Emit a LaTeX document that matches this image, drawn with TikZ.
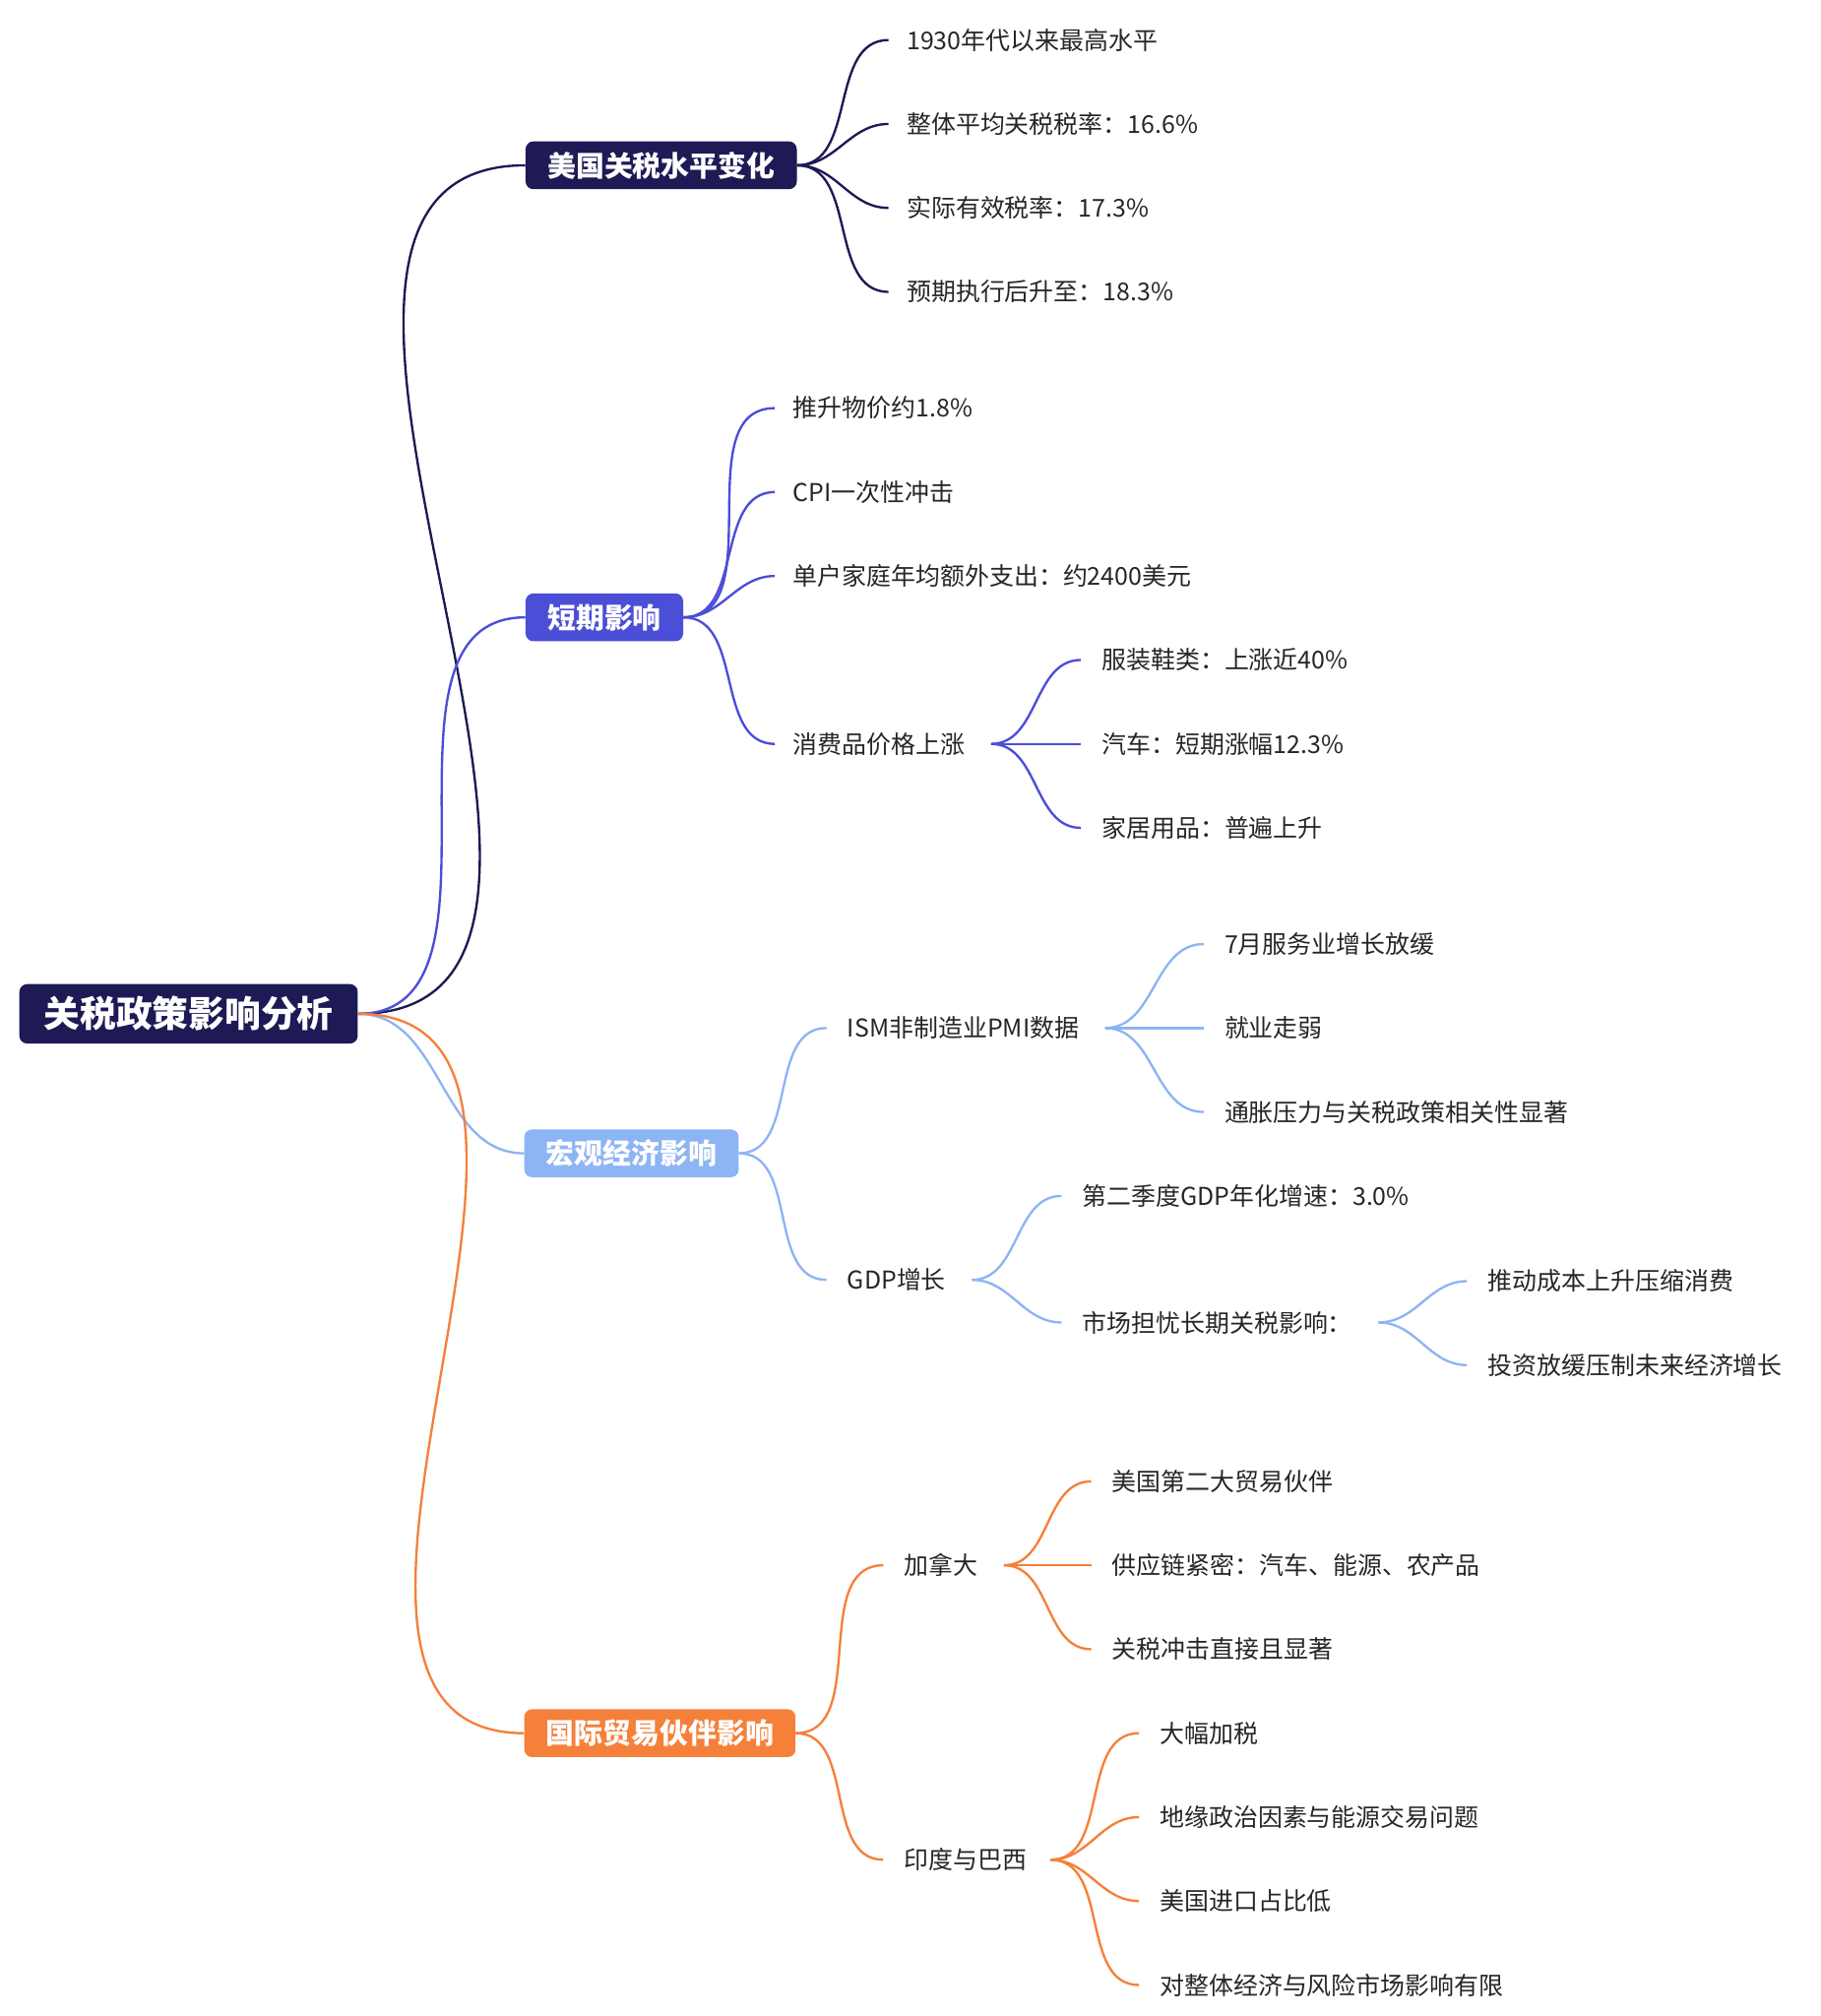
\documentclass[tikz,border=0pt]{standalone}
\usepackage{fontspec}
\setmainfont{Noto Sans CJK SC}
\begin{document}
\begin{tikzpicture}[x=1pt,y=-1pt,
  leaf/.style={anchor=west,inner sep=0pt,font=\fontsize{19}{19}\selectfont,text=black!85},
  box/.style={rounded corners=6pt,text=white,font=\fontsize{22}{22}\selectfont\bfseries,inner xsep=17pt,minimum height=37pt},
  ln/.style={line width=1.8pt,draw=#1},
  cv/.style={out=0,in=180}]
\definecolor{cA}{HTML}{1D1A55}
\definecolor{cB}{HTML}{4B4ED6}
\definecolor{cC}{HTML}{8DB4F4}
\definecolor{cD}{HTML}{F5803A}
\useasboundingbox (0,0) rectangle (1410,1561);
\node[box,fill=cA,font=\fontsize{28}{28}\selectfont\bfseries,inner xsep=19pt,minimum height=46pt] (root) at (146,785) {关税政策影响分析};
\node[box,fill=cA] (b1) at (512,128) {美国关税水平变化};
\node[box,fill=cB] (b2) at (468,478) {短期影响};
\node[box,fill=cC] (b3) at (489,893) {宏观经济影响};
\node[box,fill=cD] (b4) at (511,1342) {国际贸易伙伴影响};
\foreach \b/\c in {b1/cA,b2/cB,b3/cC,b4/cD}
  \draw[ln=\c] (root.east) to[cv] (\b.west);
% branch 1
\node[leaf] (a1) at (702,31) {1930年代以来最高水平};
\node[leaf] (a2) at (702,96) {整体平均关税税率：16.6\%};
\node[leaf] (a3) at (702,161) {实际有效税率：17.3\%};
\node[leaf] (a4) at (702,226) {预期执行后升至：18.3\%};
\foreach \n in {a1,a2,a3,a4} \draw[ln=cA] (b1.east) to[cv] ([xshift=-14pt]\n.west);
% branch 2
\node[leaf] (s1) at (614,316) {推升物价约1.8\%};
\node[leaf] (s2) at (614,381) {CPI一次性冲击};
\node[leaf] (s3) at (614,446) {单户家庭年均额外支出：约2400美元};
\node[leaf] (s4) at (614,576) {消费品价格上涨};
\foreach \n in {s1,s2,s3,s4} \draw[ln=cB] (b2.east) to[cv] ([xshift=-14pt]\n.west);
\node[leaf] (s41) at (853,511) {服装鞋类：上涨近40\%};
\node[leaf] (s42) at (853,576) {汽车：短期涨幅12.3\%};
\node[leaf] (s43) at (853,641) {家居用品：普遍上升};
\foreach \n in {s41,s42,s43} \draw[ln=cB] ([xshift=20pt]s4.east) to[cv] ([xshift=-16pt]\n.west);
% branch 3
\node[leaf] (m1) at (656,796) {ISM非制造业PMI数据};
\node[leaf] (m2) at (656,991) {GDP增长};
\foreach \n in {m1,m2} \draw[ln=cC] (b3.east) to[cv] ([xshift=-16pt]\n.west);
\node[leaf] (m11) at (948,731) {7月服务业增长放缓};
\node[leaf] (m12) at (948,796) {就业走弱};
\node[leaf] (m13) at (948,861) {通胀压力与关税政策相关性显著};
\foreach \n in {m11,m12,m13} \draw[ln=cC] ([xshift=20pt]m1.east) to[cv] ([xshift=-16pt]\n.west);
\node[leaf] (m21) at (838,926) {第二季度GDP年化增速：3.0\%};
\node[leaf] (m22) at (838,1024) {市场担忧长期关税影响：};
\foreach \n in {m21,m22} \draw[ln=cC] ([xshift=20pt]m2.east) to[cv] ([xshift=-16pt]\n.west);
\node[leaf] (m221) at (1152,992) {推动成本上升压缩消费};
\node[leaf] (m222) at (1152,1057) {投资放缓压制未来经济增长};
\foreach \n in {m221,m222} \draw[ln=cC] ([xshift=20pt]m22.east) to[cv] ([xshift=-16pt]\n.west);
% branch 4
\node[leaf] (t1) at (700,1212) {加拿大};
\node[leaf] (t2) at (700,1440) {印度与巴西};
\foreach \n in {t1,t2} \draw[ln=cD] (b4.east) to[cv] ([xshift=-16pt]\n.west);
\node[leaf] (t11) at (861,1147) {美国第二大贸易伙伴};
\node[leaf] (t12) at (861,1212) {供应链紧密：汽车、能源、农产品};
\node[leaf] (t13) at (861,1277) {关税冲击直接且显著};
\foreach \n in {t11,t12,t13} \draw[ln=cD] ([xshift=20pt]t1.east) to[cv] ([xshift=-16pt]\n.west);
\node[leaf] (t21) at (898,1342) {大幅加税};
\node[leaf] (t22) at (898,1407) {地缘政治因素与能源交易问题};
\node[leaf] (t23) at (898,1472) {美国进口占比低};
\node[leaf] (t24) at (898,1537) {对整体经济与风险市场影响有限};
\foreach \n in {t21,t22,t23,t24} \draw[ln=cD] ([xshift=18pt]t2.east) to[cv] ([xshift=-16pt]\n.west);
\end{tikzpicture}
\end{document}
